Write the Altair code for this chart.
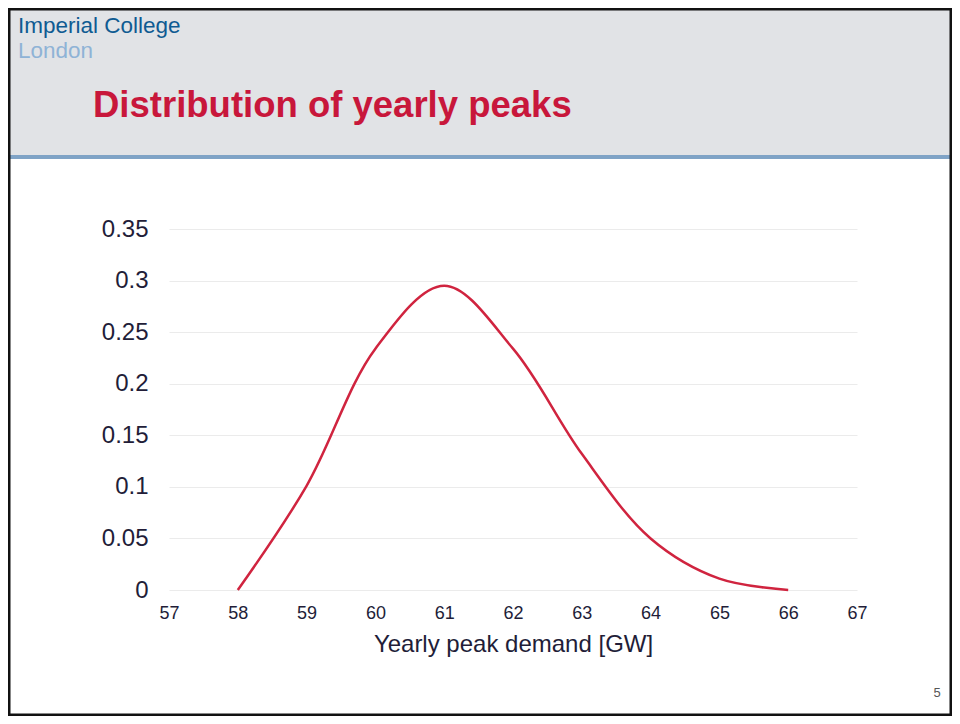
import altair as alt
import pandas as pd

# Data
demand_gw = [58, 59, 60, 61, 62, 63, 64, 65, 66]
probability = [0.0, 0.101, 0.234, 0.295, 0.234, 0.132, 0.05, 0.011, 0.0]
x_ticks = [57, 58, 59, 60, 61, 62, 63, 64, 65, 66, 67]
y_ticks = [0, 0.05, 0.1, 0.15, 0.2, 0.25, 0.3, 0.35]

df = pd.DataFrame({"demand": demand_gw, "prob": probability})
one = pd.DataFrame({"k": [0]})

PLOT_W, PLOT_H = 688, 361
PAD_L, PAD_T, PAD_R, PAD_B = 161, 221, 95, 126
TOTAL_W = PLOT_W + PAD_L + PAD_R
TOTAL_H = PLOT_H + PAD_T + PAD_B

label_color = "#221d38"
sans = "Liberation Sans, Arial, sans-serif"

header = alt.Chart(one).mark_rect(color="#e1e3e6").encode(
    x=alt.value(-PAD_L), x2=alt.value(TOTAL_W - PAD_L),
    y=alt.value(-PAD_T), y2=alt.value(-74),
)
header_line = alt.Chart(one).mark_rect(color="#7fa3c6").encode(
    x=alt.value(-PAD_L), x2=alt.value(TOTAL_W - PAD_L),
    y=alt.value(-74), y2=alt.value(-70),
)
border = alt.Chart(one).mark_rect(fill="transparent", stroke="#111111", strokeWidth=5).encode(
    x=alt.value(-PAD_L), x2=alt.value(TOTAL_W - PAD_L),
    y=alt.value(-PAD_T), y2=alt.value(TOTAL_H - PAD_T),
)

logo1 = alt.Chart(one).mark_text(
    text="Imperial College", align="left", baseline="alphabetic",
    font=sans, fontSize=22.5, color="#0f5b92",
).encode(x=alt.value(-151), y=alt.value(-196))
logo2 = alt.Chart(one).mark_text(
    text="London", align="left", baseline="alphabetic",
    font=sans, fontSize=22.5, color="#8fb3d6",
).encode(x=alt.value(-151), y=alt.value(-171))
slide_title = alt.Chart(one).mark_text(
    text="Distribution of yearly peaks", align="left", baseline="alphabetic",
    font=sans, fontSize=36.5, fontWeight="bold", color="#c8173b",
).encode(x=alt.value(-76), y=alt.value(-112))
page_no = alt.Chart(one).mark_text(
    text="5", align="center", baseline="middle",
    font=sans, fontSize=13, color="#555555",
).encode(x=alt.value(768), y=alt.value(464))

line = alt.Chart(df).mark_line(
    color="#d0243f", strokeWidth=2.5, interpolate="catmull-rom"
).encode(
    x=alt.X("demand:Q",
            scale=alt.Scale(domain=[57, 67], nice=False, zero=False),
            axis=alt.Axis(values=x_ticks, grid=False, domain=False, ticks=False,
                          labelFlush=False, labelOverlap=False,
                          labelFont=sans, labelFontSize=18,
                          labelColor=label_color, labelPadding=14,
                          title="Yearly peak demand [GW]", titleFont=sans,
                          titleFontSize=24, titleFontWeight="normal",
                          titleColor=label_color, titlePadding=10)),
    y=alt.Y("prob:Q",
            scale=alt.Scale(domain=[0, 0.35], nice=False),
            axis=alt.Axis(values=y_ticks, format=".2~f", grid=True, gridColor="#ebebeb",
                          domain=False, ticks=False, labelFont=sans,
                          labelFlush=False, labelOverlap=False,
                          labelFontSize=24, labelColor=label_color, labelPadding=21,
                          title=None)),
)

chart = alt.layer(
    header, header_line, logo1, logo2, slide_title, page_no, line, border
).properties(
    width=PLOT_W, height=PLOT_H,
    padding={"left": PAD_L, "top": PAD_T, "right": PAD_R, "bottom": PAD_B},
    autosize=alt.AutoSizeParams(type="none"),
    background="white",
).configure_view(stroke=None)

chart.save("out.html", embed_options={"renderer": "svg", "actions": False})
